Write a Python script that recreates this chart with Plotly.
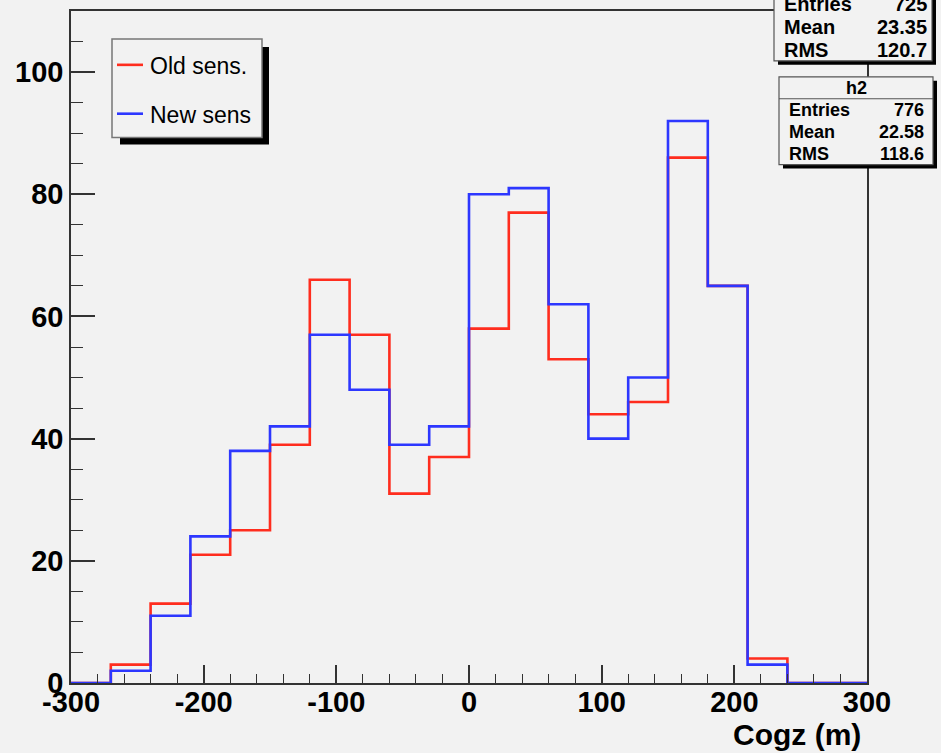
import plotly.graph_objects as go

# ---- data ----
bin_edges = [-300, -270, -240, -210, -180, -150, -120, -90, -60, -30, 0,
             30, 60, 90, 120, 150, 180, 210, 240, 270, 300]
old_counts = [0, 3, 13, 21, 25, 39, 66, 57, 31, 37, 58, 77, 53, 44, 46, 86, 65, 4, 0, 0]
new_counts = [0, 2, 11, 24, 38, 42, 57, 48, 39, 42, 80, 81, 62, 40, 50, 92, 65, 3, 0, 0]
series_names = ["Old sens.", "New sens"]
x_tick_vals = [-300, -200, -100, 0, 100, 200, 300]
x_tick_text = ["-300", "-200", "-100", "0", "100", "200", "300"]
y_tick_vals = [0, 20, 40, 60, 80, 100]
y_tick_text = ["0", "20", "40", "60", "80", "100"]
stats_h1 = {"Entries": "725", "Mean": "23.35", "RMS": "120.7"}
stats_h2 = {"Entries": "776", "Mean": "22.58", "RMS": "118.6"}
x_title = "Cogz (m)"

RED = "rgb(255,45,30)"
BLUE = "rgb(45,55,255)"
BG = "#f2f2f2"
FONT = "Liberation Sans, Arial, Helvetica, sans-serif"

W, H = 941, 753
L, R, T, B = 71, 867, 9, 683


def px(x):
    return (x - L) / (R - L)


def py(y):
    return (B - y) / (B - T)


fig = go.Figure()
for counts, col in [(old_counts, RED), (new_counts, BLUE)]:
    fig.add_trace(go.Scatter(
        x=bin_edges, y=counts + [counts[-1]], mode="lines",
        line=dict(color=col, width=2.6, shape="hv"),
        showlegend=False, hoverinfo="skip"))

axis_common = dict(
    showline=True, linecolor="#333", linewidth=1.6, mirror=True,
    ticks="inside", tickcolor="#333", tickwidth=1.6,
    showgrid=False, zeroline=False,
    tickfont=dict(family=FONT, size=29, color="black", weight="bold"),
)
fig.update_xaxes(range=[-300, 300], tickmode="array", tickvals=x_tick_vals, ticktext=x_tick_text,
                 ticklen=18, ticklabelstandoff=-8,
                 minor=dict(dtick=20, tick0=0, ticklen=9, ticks="inside", tickcolor="#333", tickwidth=1.4),
                 **axis_common)
fig.update_yaxes(range=[0, 110], tickmode="array", tickvals=y_tick_vals, ticktext=y_tick_text,
                 ticklen=24,
                 minor=dict(dtick=5, tick0=0, ticklen=12, ticks="inside", tickcolor="#333", tickwidth=1.4),
                 **axis_common)

shapes = []
annotations = []

# axis title
annotations.append(dict(xref="paper", yref="paper", x=px(863), y=py(735),
                        xanchor="right", yanchor="middle", showarrow=False,
                        text="<b>%s</b>" % x_title,
                        font=dict(family=FONT, size=30, color="black")))

# legend (shadow + box)
shapes.append(dict(type="rect", xref="paper", yref="paper", x0=px(120), x1=px(269),
                   y0=py(143), y1=py(45), fillcolor="black", line=dict(width=0), layer="above"))
shapes.append(dict(type="rect", xref="paper", yref="paper", x0=px(112), x1=px(262),
                   y0=py(136), y1=py(37), fillcolor=BG, line=dict(color="#777", width=1.5), layer="above"))
for name, col, yy in [(series_names[0], RED, 63), (series_names[1], BLUE, 112)]:
    shapes.append(dict(type="line", xref="paper", yref="paper", x0=px(117), x1=px(143),
                       y0=py(yy), y1=py(yy), line=dict(color=col, width=2.6), layer="above"))
    annotations.append(dict(xref="paper", yref="paper", x=px(148), y=py(yy + 1),
                            xanchor="left", yanchor="middle", showarrow=False, text=name,
                            font=dict(family=FONT, size=23, color="black")))

# stats box h1 (partially cut at top)
shapes.append(dict(type="rect", xref="paper", yref="paper", x0=px(778), x1=px(936),
                   y0=py(63), y1=py(-30), fillcolor="black", line=dict(width=0), layer="above"))
shapes.append(dict(type="rect", xref="paper", yref="paper", x0=px(774), x1=px(932),
                   y0=py(59), y1=py(-30), fillcolor=BG, line=dict(color="#555", width=1.2), layer="above"))
for i, (k, v) in enumerate(stats_h1.items()):
    yy = 2 + 23 * i
    annotations.append(dict(xref="paper", yref="paper", x=px(782), y=py(yy), xanchor="left",
                            yanchor="middle", showarrow=False, text="<b>%s</b>" % k,
                            font=dict(family=FONT, size=20, color="black")))
    annotations.append(dict(xref="paper", yref="paper", x=px(929), y=py(yy), xanchor="right",
                            yanchor="middle", showarrow=False, text="<b>%s</b>" % v,
                            font=dict(family=FONT, size=20, color="black")))

# stats box h2
shapes.append(dict(type="rect", xref="paper", yref="paper", x0=px(783), x1=px(937),
                   y0=py(167), y1=py(79), fillcolor="black", line=dict(width=0), layer="above"))
shapes.append(dict(type="rect", xref="paper", yref="paper", x0=px(779), x1=px(933),
                   y0=py(163), y1=py(75), fillcolor=BG, line=dict(color="#555", width=1.2), layer="above"))
shapes.append(dict(type="line", xref="paper", yref="paper", x0=px(779), x1=px(933),
                   y0=py(97), y1=py(97), line=dict(color="#555", width=1.2), layer="above"))
annotations.append(dict(xref="paper", yref="paper", x=px(856), y=py(86), xanchor="center",
                        yanchor="middle", showarrow=False, text="<b>h2</b>",
                        font=dict(family=FONT, size=18, color="black")))
for i, (k, v) in enumerate(stats_h2.items()):
    yy = 108 + 22 * i
    annotations.append(dict(xref="paper", yref="paper", x=px(787), y=py(yy), xanchor="left",
                            yanchor="middle", showarrow=False, text="<b>%s</b>" % k,
                            font=dict(family=FONT, size=18, color="black")))
    annotations.append(dict(xref="paper", yref="paper", x=px(926), y=py(yy), xanchor="right",
                            yanchor="middle", showarrow=False, text="<b>%s</b>" % v,
                            font=dict(family=FONT, size=18, color="black")))

fig.update_layout(
    width=W, height=H,
    margin=dict(l=L, r=W - R, t=T, b=H - B, pad=0),
    paper_bgcolor=BG, plot_bgcolor=BG,
    shapes=shapes, annotations=annotations,
    showlegend=False,
    font=dict(family=FONT),
)

fig.write_html("out.html")
